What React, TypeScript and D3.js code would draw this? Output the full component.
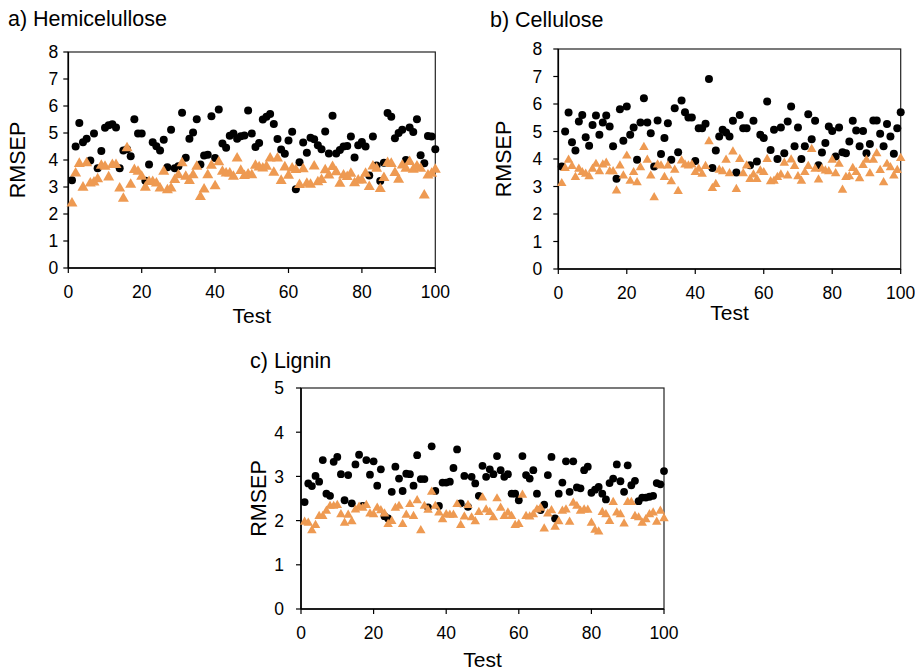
import React from "react";
import * as d3 from "d3";

// ---------- DATA ----------
const tests = d3.range(1, 101);
const xTicks = [0, 20, 40, 60, 80, 100];
const yTicksAB = [0, 1, 2, 3, 4, 5, 6, 7, 8];
const yTicksC = [0, 1, 2, 3, 4, 5];

const hemiBlack = [
  3.25, 4.5, 5.37, 4.66, 4.79, 3.98, 4.98, 3.69, 4.33, 5.19,
  5.29, 5.32, 5.2, 3.69, 4.35, 4.4, 4.14, 5.51, 4.98, 4.98,
  3.23, 3.83, 4.66, 4.51, 4.35, 4.75, 3.73, 5.12, 3.69, 3.77,
  5.75, 4.08, 4.79, 5.02, 5.51, 3.83, 4.17, 4.19, 5.62, 4.07,
  5.87, 4.61, 4.45, 4.9, 4.98, 4.79, 4.88, 4.91, 5.83, 4.98,
  4.48, 4.63, 5.5, 5.6, 5.7, 5.33, 4.78, 4.39, 4.23, 4.72,
  5.05, 2.92, 3.92, 4.65, 4.27, 4.82, 4.77, 4.55, 4.4, 5.06,
  4.24, 5.64, 4.24, 4.37, 4.5, 4.52, 4.87, 4.09, 4.55, 4.67,
  4.5, 3.43, 4.87, 3.8, 3.22, 3.9, 5.74, 5.6, 4.81, 5.0,
  5.12, 4.0, 5.2, 5.04, 5.51, 4.18, 3.88, 4.89, 4.87, 4.4,
];
const hemiOrange = [
  2.43, 3.54, 3.9, 3.02, 3.92, 3.17, 3.21, 3.33, 3.83, 3.79,
  3.4, 3.86, 3.86, 2.99, 2.61, 4.48, 3.13, 3.67, 3.61, 3.42,
  3.02, 3.23, 3.23, 3.17, 2.99, 3.61, 2.92, 2.99, 3.3, 3.48,
  3.92, 3.42, 3.27, 3.48, 3.79, 2.67, 2.95, 3.48, 3.83, 3.07,
  3.96, 3.61, 3.54, 3.54, 3.42, 4.1, 3.64, 3.45, 3.51, 3.48,
  3.83, 3.77, 3.73, 3.79, 4.1, 3.57, 4.1, 3.27, 3.77, 3.46,
  3.73, 3.67, 3.12, 3.7, 3.16, 3.13, 3.8, 3.22, 3.3, 3.66,
  3.47, 3.78, 3.59, 3.16, 3.47, 3.41, 3.53, 3.18, 3.28, 3.28,
  3.53, 3.04, 3.8, 3.72, 2.97, 3.38, 3.93, 3.9, 3.56, 3.31,
  3.84, 3.72, 3.97, 3.68, 3.8, 3.72, 2.73, 3.47, 3.53, 3.68,
];

const celBlack = [
  3.73, 5.0, 5.69, 4.61, 4.31, 5.36, 5.6, 4.79, 4.48, 5.24,
  5.58, 4.88, 5.33, 5.58, 5.18, 4.46, 3.28, 5.81, 4.66, 5.91,
  4.88, 5.15, 3.97, 5.33, 6.21, 5.33, 4.94, 3.73, 5.4, 4.18,
  4.76, 5.3, 3.97, 5.85, 4.25, 6.13, 5.7, 5.51, 5.51, 3.93,
  5.12, 5.12, 5.28, 6.91, 3.67, 4.31, 4.82, 5.06, 4.96, 4.82,
  5.39, 3.51, 5.6, 5.12, 5.12, 3.77, 5.39, 3.91, 4.88, 4.76,
  6.09, 4.33, 5.06, 4.0, 5.15, 4.21, 5.36, 5.91, 4.46, 5.15,
  4.0, 4.46, 5.63, 4.72, 5.39, 3.77, 4.24, 4.58, 5.18, 5.02,
  4.09, 5.15, 4.25, 4.21, 4.64, 5.39, 5.04, 4.46, 5.02, 4.21,
  4.55, 5.4, 5.4, 4.92, 4.46, 5.27, 4.82, 4.19, 5.12, 5.7,
];
const celOrange = [
  3.15, 3.7, 4.0, 3.77, 3.37, 3.67, 3.55, 3.49, 3.4, 3.67,
  3.85, 3.58, 3.83, 3.89, 3.58, 3.58, 2.88, 3.79, 3.43, 4.15,
  3.24, 3.55, 3.18, 3.73, 4.46, 4.0, 3.43, 2.64, 3.83, 3.79,
  3.37, 3.79, 3.22, 3.64, 2.86, 3.97, 3.83, 3.79, 3.83, 3.55,
  3.67, 3.49, 3.77, 4.67, 2.97, 3.12, 3.64, 3.58, 4.0, 3.51,
  4.3, 2.94, 4.03, 3.51, 3.79, 3.3, 3.46, 3.3, 3.61, 3.55,
  4.03, 3.22, 3.24, 3.37, 3.46, 3.89, 3.43, 4.01, 3.77, 3.4,
  3.24, 3.55, 3.77, 4.39, 3.67, 3.28, 3.67, 3.61, 3.58, 4.0,
  3.51, 3.85, 2.91, 3.37, 3.4, 3.7, 3.55, 3.33, 3.81, 4.0,
  3.51, 4.0, 4.24, 3.63, 3.18, 3.85, 3.73, 3.43, 3.63, 4.06,
];

const ligBlack = [
  2.42, 2.84, 2.78, 3.01, 2.88, 3.37, 2.61, 2.56, 3.33, 3.44,
  3.05, 2.46, 3.03, 2.39, 3.27, 3.49, 2.33, 3.37, 3.04, 3.34,
  2.79, 3.16, 2.1, 2.05, 2.65, 3.22, 2.95, 2.67, 3.06, 3.05,
  2.79, 3.48, 2.94, 2.94, 2.3, 3.68, 2.67, 2.33, 2.86, 2.86,
  2.88, 3.19, 3.61, 2.39, 3.01, 2.31, 2.99, 2.84, 2.56, 3.24,
  2.99, 3.16, 3.05, 3.46, 3.14, 2.99, 3.05, 2.61, 2.61, 2.46,
  3.46, 3.03, 2.95, 3.14, 2.61, 2.24, 2.36, 3.03, 3.44, 2.05,
  2.61, 2.86, 3.34, 2.65, 3.34, 2.75, 2.73, 3.14, 3.22, 2.63,
  2.7, 2.76, 2.61, 2.48, 2.85, 2.95, 3.27, 2.89, 2.65, 3.25,
  2.8, 2.9, 2.44, 2.52, 2.52, 2.54, 2.56, 2.85, 2.82, 3.12,
];
const ligOrange = [
  1.99, 1.97, 1.8, 1.92, 2.12, 2.12, 2.24, 2.35, 2.35, 2.37,
  2.16, 1.97, 2.15, 2.0, 2.27, 2.33, 2.31, 2.37, 2.18, 2.16,
  2.31, 2.25, 2.18, 1.94, 2.01, 2.31, 2.35, 1.94, 2.15, 2.39,
  2.12, 2.48, 1.8, 2.35, 2.26, 2.67, 2.35, 2.2, 2.05, 2.16,
  2.15, 2.15, 2.39, 1.92, 2.11, 2.37, 2.09, 2.0, 2.21, 2.54,
  2.27, 2.21, 2.09, 2.52, 2.31, 2.12, 2.2, 2.12, 1.92, 1.94,
  2.6, 2.12, 2.11, 2.16, 2.27, 2.31, 1.84, 2.18, 2.25, 1.88,
  2.0, 2.24, 2.27, 1.99, 2.42, 2.35, 2.24, 2.27, 2.26, 1.97,
  1.81, 1.77, 2.21, 2.16, 2.01, 2.44, 2.2, 2.16, 1.95, 2.44,
  2.44, 2.12, 2.09, 1.97, 2.05, 2.16, 2.2, 1.99, 2.24, 2.07,
];

// ---------- STYLE ----------
const FONT = "'Liberation Sans', Arial, sans-serif";
const ORANGE = "#EE9A52";

type PanelCfg = {
  title: string;
  titleX: number;
  titleY: number;
  x0: number;
  x1: number;
  yTop: number;
  yBottom: number;
  yMax: number;
  yTicks: number[];
  black: number[];
  orange: number[];
  yLabelGap: number;
  yTitleX: number;
  xTitleY: number;
  triSide: number;
  dotR: number;
};

const panels: PanelCfg[] = [
  {
    title: "a) Hemicelullose", titleX: 8, titleY: 26,
    x0: 68.3, x1: 435.3, yTop: 52, yBottom: 268, yMax: 8, yTicks: yTicksAB,
    black: hemiBlack, orange: hemiOrange, yLabelGap: 10, yTitleX: 25, xTitleY: 323, triSide: 11, dotR: 4,
  },
  {
    title: "b) Cellulose", titleX: 490, titleY: 27,
    x0: 558.3, x1: 900.7, yTop: 49, yBottom: 269, yMax: 8, yTicks: yTicksAB,
    black: celBlack, orange: celOrange, yLabelGap: 16, yTitleX: 511, xTitleY: 320, triSide: 9.5, dotR: 4,
  },
  {
    title: "c) Lignin", titleX: 250, titleY: 368,
    x0: 301, x1: 664, yTop: 388, yBottom: 609, yMax: 5, yTicks: yTicksC,
    black: ligBlack, orange: ligOrange, yLabelGap: 17, yTitleX: 266, xTitleY: 667, triSide: 9.5, dotR: 3.9,
  },
];

function Panel({ cfg }: { cfg: PanelCfg }) {
  const x = d3.scaleLinear().domain([0, 100]).range([cfg.x0, cfg.x1]);
  const y = d3.scaleLinear().domain([0, cfg.yMax]).range([cfg.yBottom, cfg.yTop]);
  const tri = d3.symbol().type(d3.symbolTriangle).size((cfg.triSide * cfg.triSide * Math.sqrt(3)) / 4)();
  const midY = (cfg.yTop + cfg.yBottom) / 2;
  const midX = (cfg.x0 + cfg.x1) / 2;
  return (
    <g>
      <text x={cfg.titleX} y={cfg.titleY} fontSize={21.5} fontFamily={FONT} fill="#000">
        {cfg.title}
      </text>
      <rect x={cfg.x0} y={cfg.yTop} width={cfg.x1 - cfg.x0} height={cfg.yBottom - cfg.yTop}
        fill="none" stroke="#222" strokeWidth={1.2} />
      <line x1={cfg.x0} x2={cfg.x0} y1={cfg.yTop} y2={cfg.yBottom} stroke="#000" strokeWidth={1.6} />
      <line x1={cfg.x0} x2={cfg.x1} y1={cfg.yBottom} y2={cfg.yBottom} stroke="#000" strokeWidth={1.6} />
      {cfg.yTicks.map((t) => (
        <g key={"y" + t}>
          <line x1={cfg.x0 - 5} x2={cfg.x0} y1={y(t)} y2={y(t)} stroke="#000" strokeWidth={1.2} />
          <text x={cfg.x0 - cfg.yLabelGap} y={y(t)} dy="0.36em" textAnchor="end"
            fontSize={17.5} fontFamily={FONT} fill="#000">{t}</text>
        </g>
      ))}
      {xTicks.map((t) => (
        <g key={"x" + t}>
          <line x1={x(t)} x2={x(t)} y1={cfg.yBottom} y2={cfg.yBottom + 5} stroke="#000" strokeWidth={1.2} />
          <text x={x(t)} y={cfg.yBottom + 30} textAnchor="middle"
            fontSize={17.5} fontFamily={FONT} fill="#000">{t}</text>
        </g>
      ))}
      <text x={midX} y={cfg.xTitleY} textAnchor="middle" fontSize={21} fontFamily={FONT} fill="#000">Test</text>
      <text transform={`translate(${cfg.yTitleX},${midY}) rotate(-90)`} textAnchor="middle"
        fontSize={21.5} fontFamily={FONT} fill="#000">RMSEP</text>
      {tests.map((t, i) => (
        <circle key={"b" + t} cx={x(t)} cy={y(cfg.black[i])} r={cfg.dotR} fill="#000" />
      ))}
      {tests.map((t, i) => (
        <path key={"o" + t} d={tri as string}
          transform={`translate(${x(t)},${y(cfg.orange[i]) + 1})`} fill={ORANGE} />
      ))}
    </g>
  );
}

export default function App() {
  return (
    <svg width={915} height={671} style={{ position: "absolute", left: 0, top: 0, background: "#fff" }}>
      <rect width={915} height={671} fill="#fff" />
      {panels.map((p) => (
        <Panel key={p.title} cfg={p} />
      ))}
    </svg>
  );
}
